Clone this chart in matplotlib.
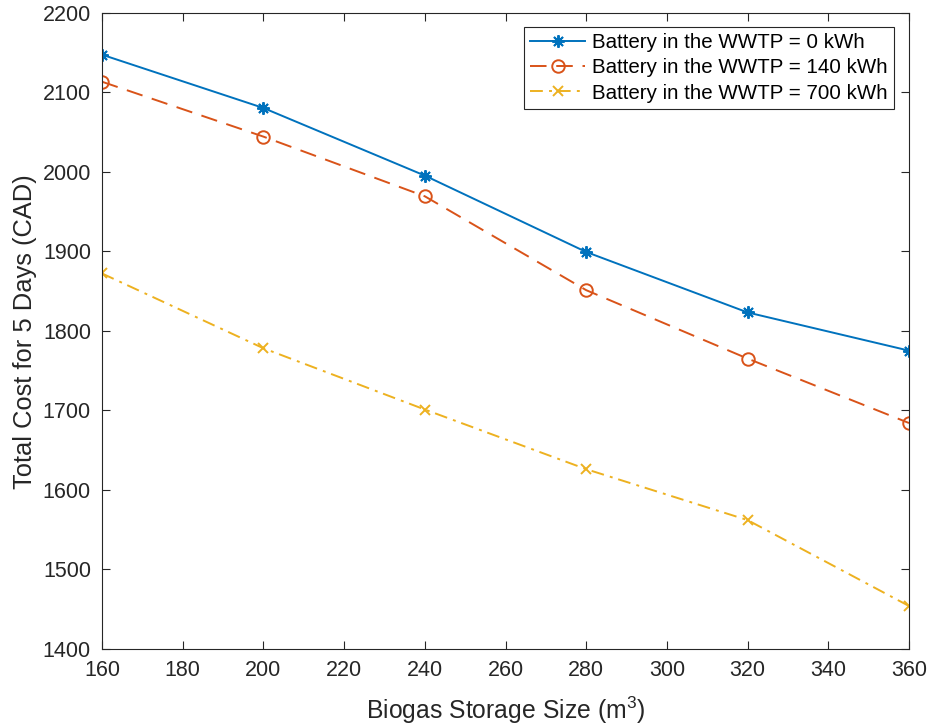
import matplotlib
matplotlib.use("Agg")
import matplotlib.pyplot as plt

plt.rcParams['font.family'] = ['Liberation Sans', 'DejaVu Sans']
plt.rcParams['mathtext.fontset'] = 'custom'
plt.rcParams['mathtext.rm'] = 'Liberation Sans'

storage = [160, 200, 240, 280, 320, 360]
cost_0kwh = [2147, 2080, 1995, 1899, 1823, 1775]
cost_140kwh = [2113, 2044, 1969, 1851, 1765, 1684]
cost_700kwh = [1872, 1778, 1701, 1626, 1562, 1454]
labels = ["Battery in the WWTP = 0 kWh",
          "Battery in the WWTP = 140 kWh",
          "Battery in the WWTP = 700 kWh"]

fig = plt.figure(figsize=(9.29, 7.27), dpi=100)
ax = fig.add_axes([0.1098, 0.1073, 0.8687, 0.8755])

lw = 1.4
ax.plot(storage, cost_0kwh, color='#0072BD', linestyle='-', marker=(8, 2, 0),
        markersize=9, markeredgewidth=1.4, linewidth=lw, label=labels[0])
ax.plot(storage, cost_140kwh, color='#D95319', linestyle=(0, (8.5, 5)), marker='o',
        markersize=9, markerfacecolor='none', markeredgewidth=1.4, linewidth=lw, label=labels[1])
ax.plot(storage, cost_700kwh, color='#EDB120', linestyle=(0, (6.6, 3.2, 1.5, 3)), marker='x',
        markersize=7, markeredgewidth=1.4, linewidth=lw, label=labels[2])

ax.set_xlim(160, 360)
ax.set_ylim(1400, 2200)
ax.set_xticks(range(160, 361, 20))
ax.set_yticks(range(1400, 2201, 100))
ax.tick_params(direction='in', length=6, width=0.8, labelsize=15.5, colors='#262626',
               top=True, right=True)
ax.tick_params(axis='x', pad=8)
ax.tick_params(axis='y', pad=8)
for s in ax.spines.values():
    s.set_color('#262626')
    s.set_linewidth(0.8)

ax.set_xlabel('Biogas Storage Size (m$^3$)', fontsize=17.8, color='#262626')
ax.xaxis.label.set_va('baseline')
ax.xaxis.set_label_coords(0.5, -0.110)
ax.set_ylabel('Total Cost for 5 Days (CAD)', fontsize=18.4, color='#262626')
ax.yaxis.label.set_va('baseline')
ax.yaxis.label.set_rotation_mode('anchor')
ax.yaxis.set_label_coords(-0.0868, 0.498)

leg = ax.legend(loc='upper right', fontsize=14.8, frameon=True, fancybox=False,
                edgecolor='#262626', framealpha=1, handlelength=2.67,
                borderpad=0.3, labelspacing=0.3, handletextpad=0.34,
                borderaxespad=0, bbox_to_anchor=(0.9814, 0.9772))
leg.get_frame().set_linewidth(0.8)

fig.savefig('out.png', dpi=100)
